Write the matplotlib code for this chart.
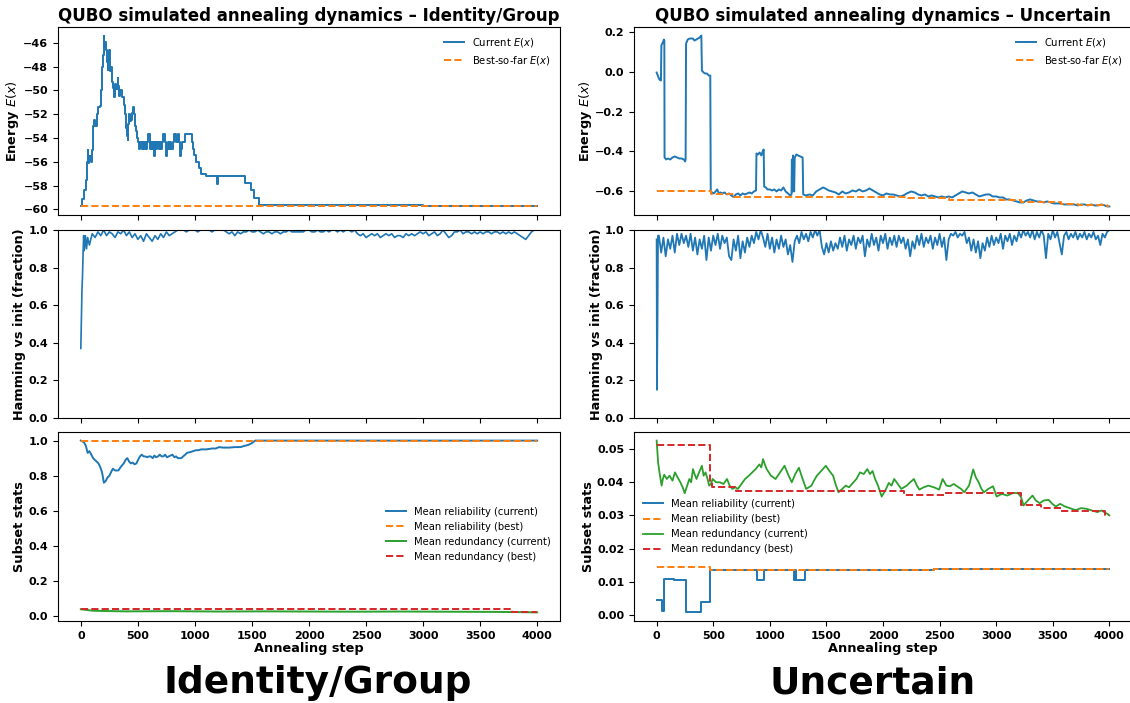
import matplotlib
matplotlib.use("Agg")
import matplotlib.pyplot as plt

# ---------------- data ----------------
# Left column: Identity/Group
EL_step = [0, 13, 32, 44, 54, 60, 66, 76, 85, 95, 107, 117, 126, 139, 148, 164, 177, 186, 196, 202,
           207, 212, 218, 224, 229, 234, 242, 250, 255, 259, 265, 272, 280, 291, 297, 303, 312, 322,
           328, 335, 345, 354, 362, 370, 378, 386, 392, 398, 404, 411, 417, 423, 431, 439, 447, 455,
           463, 471, 479, 487, 495, 502, 512, 522, 532, 542, 552, 562, 572, 582, 592, 602, 612, 622,
           632, 642, 652, 662, 672, 682, 692, 702, 712, 724, 734, 744, 754, 764, 774, 784, 794, 806,
           818, 834, 850, 860, 870, 880, 890, 900, 913, 940, 976, 983, 992, 1008, 1025, 1040, 1055,
           1100, 1198, 1205, 1435, 1488, 1514, 1561, 2000, 2500, 3000, 3500, 4000]
EL_cur = [-59.75, -59.1, -58.4, -57.5, -56.0, -55.0, -56.1, -55.5, -56.0, -55.0, -53.0, -52.5, -53.0,
          -52.0, -51.4, -51.3, -50.0, -48.0, -47.0, -45.4, -46.4, -45.9, -46.5, -46.6, -47.6, -48.3,
          -47.5, -46.6, -47.8, -48.4, -48.0, -49.3, -49.8, -50.6, -50.0, -49.5, -49.9, -49.0, -49.6,
          -50.5, -50.0, -50.0, -50.6, -50.6, -51.2, -52.0, -52.6, -53.2, -53.8, -54.2, -52.8, -52.0,
          -52.6, -52.5, -51.9, -51.4, -52.0, -52.5, -53.0, -53.4, -54.0, -54.3, -54.9, -54.3, -54.9,
          -54.3, -54.9, -54.3, -54.9, -54.3, -53.7, -54.9, -54.3, -54.9, -54.3, -55.5, -54.3, -54.9,
          -54.3, -54.9, -54.3, -54.9, -54.3, -53.7, -54.3, -55.5, -54.9, -54.3, -54.9, -54.3, -54.9,
          -54.3, -53.7, -54.3, -53.7, -54.3, -55.5, -54.9, -54.3, -54.3, -53.7, -53.7, -54.3, -54.9,
          -55.4, -56.0, -56.0, -56.5, -57.0, -57.2, -57.9, -57.2, -57.8, -58.4, -59.0, -59.6, -59.65,
          -59.6, -59.7, -59.7, -59.75]
EL_best_step = [0, 4000]
EL_best = [-59.75, -59.75]

HL_step = [0, 5, 10, 15, 20, 25, 30, 40, 50, 60, 75] + list(range(100, 4001, 25))
HL_val = [0.37, 0.54, 0.68, 0.76, 0.88, 0.97, 0.89, 0.97, 0.90, 0.96, 0.92,
          0.98, 0.96, 0.99, 0.97, 1.00, 0.97, 0.99, 0.98, 0.96, 0.99, 0.98, 1.00,
          0.97, 0.99, 0.96, 0.98, 0.95, 0.97, 0.94, 0.98, 0.96, 0.94, 0.97, 0.95,
          0.98, 0.96, 0.99, 0.97, 0.98, 0.99, 1.00, 1.00, 1.00, 0.99, 1.00, 1.00,
          1.00, 0.99, 1.00, 1.00, 1.00, 1.00, 0.99, 1.00, 1.00, 1.00, 1.00, 0.99,
          0.98, 0.99, 0.97, 0.99, 0.98, 0.99, 0.99, 1.00, 0.99, 0.99, 1.00, 0.99,
          0.98, 0.99, 0.99, 0.98, 0.99, 0.99, 0.98, 0.99, 0.99, 1.00, 0.99, 0.99,
          0.99, 0.99, 0.99, 1.00, 1.00, 0.99, 0.99, 1.00, 0.99, 0.99, 1.00, 0.99,
          1.00, 1.00, 0.99, 1.00, 0.99, 1.00, 1.00, 0.99, 1.00, 0.98, 0.97, 0.98,
          0.96, 0.97, 0.98, 0.97, 0.98, 0.96, 0.97, 0.98, 0.97, 0.98, 0.96, 0.97,
          0.97, 0.96, 0.98, 0.97, 0.98, 0.97, 0.98, 0.99, 0.98, 0.99, 0.97, 0.98,
          0.99, 0.97, 0.98, 1.00, 0.98, 0.96, 0.97, 0.99, 0.99, 1.00, 0.98, 0.99,
          0.99, 0.98, 0.99, 0.98, 0.99, 0.98, 0.99, 0.99, 0.98, 0.99, 0.99, 0.98,
          0.99, 0.98, 0.99, 0.98, 0.99, 0.98, 0.97, 0.96, 0.95, 0.97, 0.99, 1.00, 1.00]

SL_rel_step = [0, 28, 44, 60, 75, 92, 108, 123, 140, 155, 170, 186, 202, 218, 234, 250, 265, 281,
               300, 329, 350, 376, 392, 408, 424, 439, 455, 471, 487, 502, 518, 534, 550, 565, 581,
               597, 613, 630, 645, 660, 676, 692, 708, 724, 739, 755, 771, 787, 803, 820, 835, 850,
               866, 880, 897, 915, 930, 961, 985, 1008, 1030, 1055, 1100, 1150, 1182, 1213, 1245,
               1300, 1350, 1400, 1435, 1466, 1498, 1529, 1570, 2000, 2500, 3000, 3500, 4000]
SL_rel_cur = [1.0, 0.99, 0.97, 0.93, 0.94, 0.92, 0.90, 0.89, 0.88, 0.87, 0.85, 0.82, 0.76, 0.77,
              0.79, 0.80, 0.82, 0.84, 0.83, 0.83, 0.85, 0.87, 0.89, 0.90, 0.88, 0.87, 0.875, 0.865,
              0.87, 0.89, 0.91, 0.92, 0.91, 0.91, 0.905, 0.91, 0.91, 0.90, 0.915, 0.905, 0.91, 0.92,
              0.91, 0.91, 0.92, 0.905, 0.91, 0.915, 0.92, 0.905, 0.91, 0.90, 0.90, 0.90, 0.91, 0.92,
              0.93, 0.935, 0.94, 0.945, 0.945, 0.95, 0.95, 0.955, 0.955, 0.963, 0.96, 0.96, 0.963,
              0.963, 0.97, 0.975, 0.985, 1.0, 1.0, 1.0, 1.0, 1.0, 1.0, 1.0]
SL_rel_best_step = [0, 4000]
SL_rel_best = [1.0, 1.0]
SL_red_step = [0, 50, 100, 200, 400, 800, 1200, 1600, 2000, 2400, 2800, 3200, 3600, 3800, 4000]
SL_red_cur = [0.040, 0.036, 0.032, 0.030, 0.028, 0.029, 0.027, 0.028, 0.027, 0.026, 0.027, 0.026,
              0.025, 0.024, 0.022]
SL_red_best_step = [0, 3780, 4000]
SL_red_best = [0.041, 0.022, 0.022]

# Right column: Uncertain
ER_step = [0, 10, 25, 38, 42, 50, 58, 64, 68, 70, 85, 100, 120, 140, 160, 180, 200, 220, 240, 252,
           256, 260, 275, 290, 305, 320, 335, 350, 365, 380, 395, 400, 415, 430, 445, 460, 474, 478,
           490, 505, 520, 535, 550, 565, 580, 600, 620, 640, 660, 680, 700, 720, 740, 760, 780, 800,
           820, 840, 860, 878, 882, 895, 910, 925, 940, 946, 950, 965, 980, 1000, 1020, 1040, 1060,
           1080, 1100, 1120, 1140, 1160, 1180, 1192, 1195, 1200, 1205, 1215, 1220, 1235, 1250, 1270,
           1290, 1295, 1320, 1350, 1380, 1410, 1440, 1470, 1490, 1520, 1550, 1580, 1610, 1640, 1670,
           1700, 1730, 1760, 1790, 1820, 1850, 1880, 1910, 1940, 1970, 2000, 2030, 2060, 2090, 2120,
           2150, 2180, 2210, 2250, 2280, 2310, 2340, 2370, 2400, 2430, 2460, 2490, 2520, 2550, 2580,
           2610, 2640, 2670, 2700, 2730, 2760, 2790, 2820, 2850, 2880, 2910, 2940, 2970, 3000, 3030,
           3060, 3090, 3120, 3150, 3180, 3210, 3240, 3270, 3300, 3330, 3360, 3390, 3420, 3450, 3480,
           3510, 3540, 3570, 3600, 3630, 3660, 3690, 3720, 3750, 3780, 3810, 3840, 3870, 3900, 3930,
           3960, 3980, 4000]
ER_cur = [-0.005, -0.02, -0.04, -0.045, 0.13, 0.14, 0.15, 0.16, 0.155, -0.43, -0.44, -0.435, -0.44,
          -0.43, -0.425, -0.43, -0.435, -0.435, -0.44, -0.45, -0.44, 0.14, 0.16, 0.165, 0.165, 0.165,
          0.155, 0.16, 0.165, 0.17, 0.18, 0.005, -0.005, -0.01, -0.01, -0.02, -0.02, -0.6, -0.605,
          -0.61, -0.6, -0.59, -0.61, -0.605, -0.61, -0.605, -0.615, -0.61, -0.62, -0.628, -0.615,
          -0.61, -0.62, -0.61, -0.615, -0.61, -0.605, -0.61, -0.6, -0.595, -0.41, -0.415, -0.405,
          -0.42, -0.395, -0.39, -0.575, -0.58, -0.59, -0.59, -0.595, -0.59, -0.6, -0.59, -0.595,
          -0.58, -0.6, -0.61, -0.62, -0.615, -0.44, -0.6, -0.42, -0.6, -0.43, -0.415, -0.42, -0.425,
          -0.43, -0.615, -0.62, -0.615, -0.62, -0.6, -0.59, -0.58, -0.585, -0.595, -0.6, -0.605,
          -0.615, -0.6, -0.61, -0.605, -0.595, -0.6, -0.59, -0.6, -0.595, -0.585, -0.595, -0.605,
          -0.615, -0.62, -0.61, -0.615, -0.615, -0.62, -0.625, -0.62, -0.61, -0.6, -0.605, -0.615,
          -0.62, -0.615, -0.625, -0.62, -0.625, -0.63, -0.625, -0.63, -0.625, -0.63, -0.62, -0.61,
          -0.6, -0.605, -0.61, -0.605, -0.615, -0.625, -0.62, -0.615, -0.615, -0.625, -0.625, -0.63,
          -0.63, -0.64, -0.64, -0.645, -0.65, -0.655, -0.655, -0.645, -0.64, -0.645, -0.65, -0.65,
          -0.655, -0.65, -0.655, -0.66, -0.66, -0.66, -0.665, -0.665, -0.665, -0.665, -0.67, -0.665,
          -0.665, -0.67, -0.665, -0.67, -0.67, -0.665, -0.67, -0.675, -0.675]
ER_best_step = [0, 478, 680, 2218, 2584, 3221, 3575, 3726, 3980, 4000]
ER_best = [-0.6, -0.615, -0.63, -0.635, -0.643, -0.655, -0.663, -0.668, -0.675, -0.675]

HR_step = [0, 3, 8, 12] + list(range(20, 4001, 20))
HR_val = [0.95, 0.15, 0.55, 0.97,
          0.97, 0.88, 0.96, 0.86, 0.95, 0.90, 0.97, 0.88, 0.98, 0.92,
          0.98, 0.93, 0.97, 0.91, 0.98, 0.89, 0.96, 0.87, 0.95, 0.90,
          0.97, 0.84, 0.96, 0.89, 0.97, 0.92, 0.98, 0.90, 0.97, 0.93,
          0.96, 0.86, 0.84, 0.95, 0.89, 0.97, 0.85, 0.94, 0.88, 0.96,
          0.91, 0.97, 0.93, 0.99, 0.95, 1.00, 0.96, 0.91, 0.98, 0.90,
          0.96, 0.88, 0.95, 0.90, 0.97, 0.91, 0.95, 0.87, 0.92, 0.83,
          0.94, 0.97, 0.93, 0.99, 0.95, 0.98, 0.94, 0.99, 0.96, 1.00,
          0.97, 1.00, 0.91, 0.87, 0.93, 0.88, 0.94, 0.89, 0.93, 0.90,
          0.96, 0.91, 0.97, 0.89, 0.95, 0.92, 0.97, 0.90, 0.96, 0.93,
          0.97, 0.86, 0.95, 0.91, 0.98, 0.92, 0.96, 0.89, 0.97, 0.93,
          0.98, 0.90, 0.96, 0.92, 0.97, 0.91, 0.97, 0.93, 0.96, 0.90,
          0.95, 0.86, 0.94, 0.90, 0.97, 0.92, 0.98, 0.91, 0.96, 0.93,
          0.97, 0.90, 0.96, 0.92, 0.98, 0.91, 0.96, 0.84, 0.95, 0.98,
          0.97, 0.99, 0.96, 0.98, 0.97, 0.99, 0.93, 0.96, 0.89, 0.95,
          0.88, 0.94, 0.85, 0.93, 0.89, 0.96, 0.91, 0.97, 0.92, 0.96,
          0.93, 0.98, 0.90, 0.97, 0.94, 0.98, 0.92, 0.97, 0.94, 0.99,
          0.96, 1.00, 0.97, 0.99, 0.96, 1.00, 0.95, 0.99, 0.96, 1.00,
          0.97, 0.85, 0.98, 0.95, 1.00, 0.96, 0.99, 0.93, 0.87, 0.97,
          0.99, 0.95, 0.98, 0.96, 0.99, 0.95, 0.98, 0.96, 0.99, 0.95,
          0.98, 0.96, 0.99, 0.95, 0.97, 0.92, 0.98, 0.96, 0.99, 1.00]

SR_rel_step = [0, 44, 67, 150, 257, 394, 470, 700, 883, 950, 1210, 1225, 1235, 1315, 2450, 4000]
SR_rel_cur = [0.0044, 0.0010, 0.0107, 0.0106, 0.0007, 0.0038, 0.0135, 0.0134, 0.0104, 0.0134,
              0.0105, 0.0134, 0.0105, 0.0134, 0.0137, 0.0137]
SR_rel_best_step = [0, 470, 2450, 4000]
SR_rel_best = [0.0143, 0.0135, 0.0137, 0.0137]
SR_red_step = [0, 13, 25, 44, 55, 67, 90, 114, 140, 162, 185, 210, 230, 248, 270, 289, 305, 321, 335,
               352, 375, 400, 415, 432, 450, 464, 480, 495, 525, 559, 590, 622, 645, 670, 695, 718,
               750, 781, 815, 845, 875, 908, 925, 940, 955, 972, 1010, 1051, 1090, 1130, 1160, 1194,
               1225, 1257, 1290, 1321, 1345, 1368, 1390, 1416, 1455, 1495, 1525, 1559, 1585, 1607,
               1640, 1670, 1700, 1734, 1765, 1797, 1830, 1861, 1885, 1908, 1930, 1956, 1975, 1988,
               2020, 2051, 2075, 2099, 2130, 2162, 2185, 2210, 2240, 2273, 2300, 2321, 2360, 2400,
               2450, 2496, 2527, 2560, 2591, 2625, 2654, 2690, 2718, 2760, 2797, 2820, 2845, 2870,
               2892, 2930, 2972, 3004, 3050, 3099, 3150, 3194, 3220, 3242, 3280, 3321, 3350, 3385,
               3420, 3464, 3495, 3527, 3565, 3607, 3650, 3702, 3750, 3797, 3845, 3893, 3930, 3956,
               3980, 4000]
SR_red_cur = [0.0526, 0.046, 0.043, 0.039, 0.041, 0.0423, 0.041, 0.042, 0.0405, 0.043, 0.0415, 0.040,
              0.0385, 0.0367, 0.039, 0.041, 0.040, 0.044, 0.0425, 0.041, 0.043, 0.045, 0.042, 0.043,
              0.041, 0.039, 0.0395, 0.041, 0.040, 0.040, 0.0395, 0.041, 0.039, 0.038, 0.0385, 0.038,
              0.0395, 0.041, 0.042, 0.043, 0.044, 0.0454, 0.0445, 0.047, 0.0455, 0.044, 0.042, 0.041,
              0.043, 0.045, 0.0425, 0.040, 0.0425, 0.0444, 0.041, 0.038, 0.0385, 0.039, 0.0405, 0.042,
              0.0435, 0.045, 0.0435, 0.042, 0.039, 0.037, 0.038, 0.039, 0.0385, 0.0398, 0.041, 0.043,
              0.0425, 0.044, 0.0425, 0.0434, 0.041, 0.039, 0.037, 0.0357, 0.0375, 0.0398, 0.039,
              0.041, 0.0395, 0.038, 0.0385, 0.039, 0.040, 0.041, 0.039, 0.0378, 0.0385, 0.039, 0.0385,
              0.0378, 0.041, 0.039, 0.0388, 0.0395, 0.0388, 0.038, 0.037, 0.039, 0.0439, 0.0415,
              0.040, 0.038, 0.037, 0.038, 0.0388, 0.0357, 0.0365, 0.036, 0.0368, 0.0367, 0.0355,
              0.033, 0.0345, 0.036, 0.0345, 0.0337, 0.0345, 0.0347, 0.0335, 0.0327, 0.0335, 0.0327,
              0.0322, 0.0316, 0.0322, 0.032, 0.0315, 0.031, 0.0315, 0.031, 0.0305, 0.030]
SR_red_best_step = [0, 474, 488, 700, 2184, 2550, 3215, 3400, 3575, 3960, 4000]
SR_red_best = [0.0514, 0.0402, 0.0386, 0.0373, 0.0362, 0.0368, 0.0332, 0.0321, 0.0314, 0.0302, 0.0302]

xticks = [0, 500, 1000, 1500, 2000, 2500, 3000, 3500, 4000]
titles = ["QUBO simulated annealing dynamics \u2013 Identity/Group",
          "QUBO simulated annealing dynamics \u2013 Uncertain"]
big_labels = ["Identity/Group", "Uncertain"]

# ---------------- figure ----------------
plt.rcParams['font.family'] = ['DejaVu Sans']
W, H = 1130, 703
fig = plt.figure(figsize=(W / 100, H / 100), dpi=100)

C_BLUE, C_ORANGE, C_GREEN, C_RED = '#1f77b4', '#ff7f0e', '#2ca02c', '#d62728'
LEG = dict(fontsize=7.2, frameon=False)


def pl(ax, x, y, **kw):
    n = min(len(x), len(y))
    return ax.plot(x[:n], y[:n], **kw)


def ax_at(x0, x1, y0, y1):
    return fig.add_axes([x0 / W, 1 - y1 / H, (x1 - x0) / W, (y1 - y0) / H])


cols = [(58, 560), (634, 1132)]
rows = [(27, 215), (230, 418), (432, 621)]

axes = []
for (x0, x1) in cols:
    col = [ax_at(x0, x1, y0, y1) for (y0, y1) in rows]
    axes.append(col)

# Left column
a0, a1, a2 = axes[0]
pl(a0, EL_step, EL_cur, color=C_BLUE, lw=1.4, drawstyle='steps-post', label='Current $E(x)$')
pl(a0, EL_best_step, EL_best, color=C_ORANGE, lw=1.4, ls='--', label='Best-so-far $E(x)$')
a0.legend(loc='upper right', **LEG)
a0.set_ylabel('Energy $E(x)$', fontsize=9.3, fontweight='bold')

pl(a1, HL_step, HL_val, color=C_BLUE, lw=1.2)
a1.set_ylim(0, 1.0)
a1.set_ylabel('Hamming vs init (fraction)', fontsize=9.3, fontweight='bold')

pl(a2, SL_rel_step, SL_rel_cur, color=C_BLUE, lw=1.4, label='Mean reliability (current)')
pl(a2, SL_rel_best_step, SL_rel_best, color=C_ORANGE, lw=1.4, ls='--', label='Mean reliability (best)')
pl(a2, SL_red_step, SL_red_cur, color=C_GREEN, lw=1.4, label='Mean redundancy (current)')
pl(a2, SL_red_best_step, SL_red_best, color=C_RED, lw=1.4, ls='--', drawstyle='steps-post',
   label='Mean redundancy (best)')
a2.legend(loc='center right', bbox_to_anchor=(1.0, 0.46), **LEG)
a2.set_ylabel('Subset stats', fontsize=9.3, fontweight='bold')

# Right column
b0, b1, b2 = axes[1]
pl(b0, ER_step, ER_cur, color=C_BLUE, lw=1.4, label='Current $E(x)$')
pl(b0, ER_best_step, ER_best, color=C_ORANGE, lw=1.4, ls='--', drawstyle='steps-post',
   label='Best-so-far $E(x)$')
b0.legend(loc='upper right', **LEG)
b0.set_ylabel('Energy $E(x)$', fontsize=9.3, fontweight='bold')

pl(b1, HR_step, HR_val, color=C_BLUE, lw=1.3)
b1.set_ylim(0, 1.0)
b1.set_ylabel('Hamming vs init (fraction)', fontsize=9.3, fontweight='bold')

pl(b2, SR_rel_step, SR_rel_cur, color=C_BLUE, lw=1.4, drawstyle='steps-post',
   label='Mean reliability (current)')
pl(b2, SR_rel_best_step, SR_rel_best, color=C_ORANGE, lw=1.4, ls='--', drawstyle='steps-post',
   label='Mean reliability (best)')
pl(b2, SR_red_step, SR_red_cur, color=C_GREEN, lw=1.3, label='Mean redundancy (current)')
pl(b2, SR_red_best_step, SR_red_best, color=C_RED, lw=1.4, ls='--', drawstyle='steps-post',
   label='Mean redundancy (best)')
b2.legend(loc='center left', bbox_to_anchor=(0.0, 0.5), **LEG)
b2.set_ylabel('Subset stats', fontsize=9.3, fontweight='bold')

# y-label positions (right edge of rotated label, in pixels)
label_right_px = [[21, 26, 26], [594, 603, 595]]

for c, col in enumerate(axes):
    x0 = cols[c][0]
    width = cols[c][1] - cols[c][0]
    for r, ax in enumerate(col):
        ax.set_xticks(xticks)
        ax.set_xlim(-200, 4200)
        ax.tick_params(labelsize=8)
        for lab in ax.get_yticklabels() + ax.get_xticklabels():
            lab.set_fontweight('bold')
        if r < 2:
            ax.tick_params(labelbottom=False)
        else:
            ax.set_xlabel('Annealing step', fontsize=9.3, fontweight='bold', labelpad=1)
        ax.yaxis.set_label_coords((label_right_px[c][r] - x0) / width, 0.5)
    col[0].set_title(titles[c], fontsize=12, fontweight='bold', pad=4)

fig.text(318 / W, 1 - 683 / H, big_labels[0], ha='center', va='center', fontsize=27, fontweight='bold')
fig.text(873 / W, 1 - 683 / H, big_labels[1], ha='center', va='center', fontsize=27, fontweight='bold')

fig.savefig('out.png', dpi=100)
